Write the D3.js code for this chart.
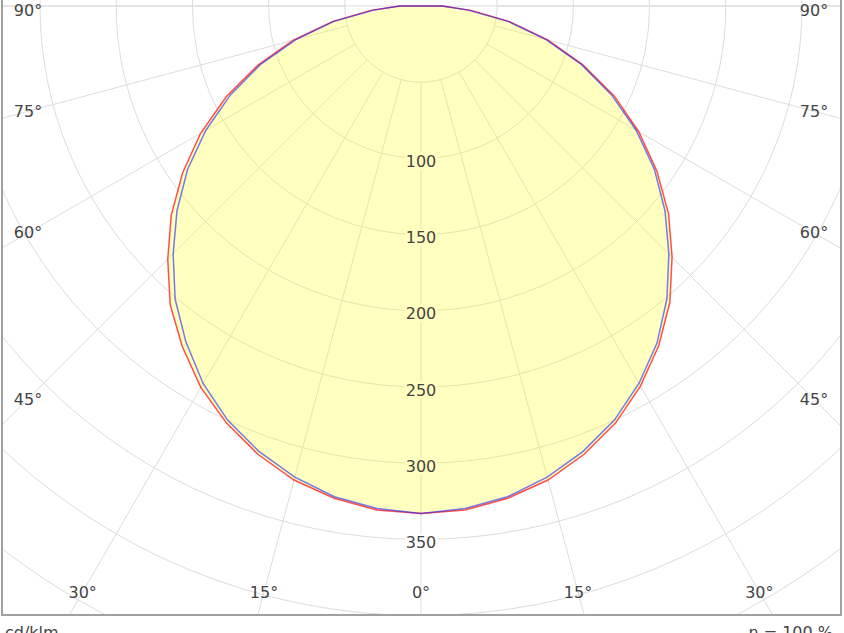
<!DOCTYPE html>
<html>
<head>
<meta charset="utf-8">
<script src="https://cdn.jsdelivr.net/npm/d3@7"></script>
<style>
  html, body { margin: 0; padding: 0; background: #fff; }
  svg { display: block; font-family: "DejaVu Sans", Verdana, sans-serif; }
</style>
</head>
<body>
<div id="chart"></div>
<script>
// gamma angles (deg) and intensities in cd/klm
const gammas = [0, 5, 10, 15, 20, 25, 30, 35, 40, 45, 50, 55, 60, 65, 70, 75, 80, 85, 90];
const c0   = [333, 332, 328, 322, 313, 302, 288, 272, 254, 233, 212, 189, 165, 140, 113, 86, 59, 33, 14];
const c180 = [333, 332, 328, 322, 313, 302, 289, 273, 256, 235, 214, 191, 167, 141, 114, 87, 59, 33, 14];
const c90  = [333, 331, 327, 320, 311, 300, 286, 270, 251, 230, 209, 187, 163, 138, 112, 85, 58, 31, 14];
const c270 = [333, 331, 327, 320, 311, 300, 286, 269, 251, 230, 209, 187, 163, 138, 112, 85, 58, 31, 14];

const ringValues = [50, 100, 150, 200, 250, 300, 350, 400, 450, 500];
const ringLabels = [100, 150, 200, 250, 300, 350];
const spokeAngles = [-90, -75, -60, -45, -30, -15, 0, 15, 30, 45, 60, 75, 90];
const peak = 333;

const W = 844, H = 633;
const cx = 421, cy = 6;
const frame = {left: 2, right: 841, top: -10, bottom: 615};

const r = d3.scaleLinear().domain([0, 50]).range([0, 76.2]);

const svg = d3.select("#chart").append("svg")
    .attr("width", W)
    .attr("height", H);

svg.append("clipPath").attr("id", "clip")
  .append("rect")
    .attr("x", frame.left).attr("y", frame.top)
    .attr("width", frame.right - frame.left)
    .attr("height", frame.bottom - frame.top);

const plot = svg.append("g").attr("clip-path", "url(#clip)");
const grid = plot.append("g").attr("transform", `translate(${cx},${cy})`);

// rings
grid.selectAll("circle.ring")
  .data(ringValues)
  .enter().append("circle")
    .attr("class", "ring")
    .attr("r", d => r(d))
    .attr("fill", "none")
    .attr("stroke", "#dcdcdc")
    .attr("stroke-width", 1);

// spokes, starting at the 50 ring
const rad = a => a * Math.PI / 180;
grid.selectAll("line.spoke")
  .data(spokeAngles)
  .enter().append("line")
    .attr("class", "spoke")
    .attr("x1", d => r(50) * Math.sin(rad(d)))
    .attr("y1", d => r(50) * Math.cos(rad(d)))
    .attr("x2", d => 1200 * Math.sin(rad(d)))
    .attr("y2", d => 1200 * Math.cos(rad(d)))
    .attr("stroke", "#dcdcdc")
    .attr("stroke-width", 1);

// horizontal 90 deg line across the whole plot
plot.append("line")
    .attr("x1", 0).attr("x2", W)
    .attr("y1", cy).attr("y2", cy)
    .attr("stroke", "#dcdcdc");

// build a closed curve: left half (negative gamma) then right half
function plane(left, right) {
  const pts = [];
  for (let i = gammas.length - 1; i > 0; i--) pts.push({g: -gammas[i], v: left[i]});
  for (let i = 0; i < gammas.length; i++) pts.push({g: gammas[i], v: right[i]});
  return pts;
}

const radial = d3.lineRadial()
    .angle(d => Math.PI - rad(d.g))
    .radius(d => r(d.v))
    .curve(d3.curveLinearClosed);

const curves = plot.append("g").attr("transform", `translate(${cx},${cy})`);

curves.append("path")
    .attr("d", radial(plane(c180, c0)))
    .attr("fill", "rgba(255,255,0,0.25)")
    .attr("stroke", "none");

curves.append("path")
    .attr("d", radial(plane(c180, c0)))
    .attr("fill", "none")
    .attr("stroke", "#ff3030")
    .attr("stroke-opacity", 0.85)
    .attr("stroke-width", 1.5);

curves.append("path")
    .attr("d", radial(plane(c270, c90)))
    .attr("fill", "none")
    .attr("stroke", "#2020ff")
    .attr("stroke-opacity", 0.6)
    .attr("stroke-width", 1.5);

// ring labels on the 0 deg axis, drawn above the fill
curves.selectAll("text.ringlabel")
  .data(ringLabels)
  .enter().append("text")
    .attr("class", "ringlabel")
    .attr("x", 0)
    .attr("y", d => r(d) + 3)
    .attr("text-anchor", "middle")
    .attr("dominant-baseline", "central")
    .attr("font-size", 16)
    .attr("fill", "#444")
    .attr("stroke", d => d < peak ? "#ffffbf" : "#fff")
    .attr("stroke-width", 5)
    .attr("paint-order", "stroke")
    .text(d => d);

// angle labels, placed where each spoke meets an inner box
const box = {dx: 393, bottom: 586};
const angleLabels = spokeAngles.map(a => {
  const s = Math.sin(rad(Math.abs(a))), c = Math.cos(rad(Math.abs(a)));
  let x, y;
  if (c < 1e-6 || box.dx * c / s < box.bottom) {
    x = box.dx; y = box.dx * c / Math.max(s, 1e-6);
  } else {
    y = box.bottom; x = box.bottom * s / c;
  }
  return {a: a, x: cx + Math.sign(a) * x, y: cy + y};
});

svg.selectAll("text.anglelabel")
  .data(angleLabels)
  .enter().append("text")
    .attr("class", "anglelabel")
    .attr("x", d => d.x)
    .attr("y", d => Math.max(d.y, 10))
    .attr("text-anchor", "middle")
    .attr("dominant-baseline", "central")
    .attr("font-size", 16)
    .attr("fill", "#444")
    .text(d => Math.abs(d.a) + "°");

// frame
svg.append("path")
    .attr("d", `M${frame.left},${frame.top}V${frame.bottom}H${frame.right}V${frame.top}`)
    .attr("fill", "none")
    .attr("stroke", "#a0a0a0")
    .attr("stroke-width", 2);

// footer (cut by the bottom edge, as in the source)
svg.append("text")
    .attr("x", 5).attr("y", 638)
    .attr("font-size", 16).attr("fill", "#444")
    .text("cd/klm");

svg.append("text")
    .attr("x", 833).attr("y", 638)
    .attr("text-anchor", "end")
    .attr("font-size", 16).attr("fill", "#444")
    .text("η = 100 %");
</script>
</body>
</html>
